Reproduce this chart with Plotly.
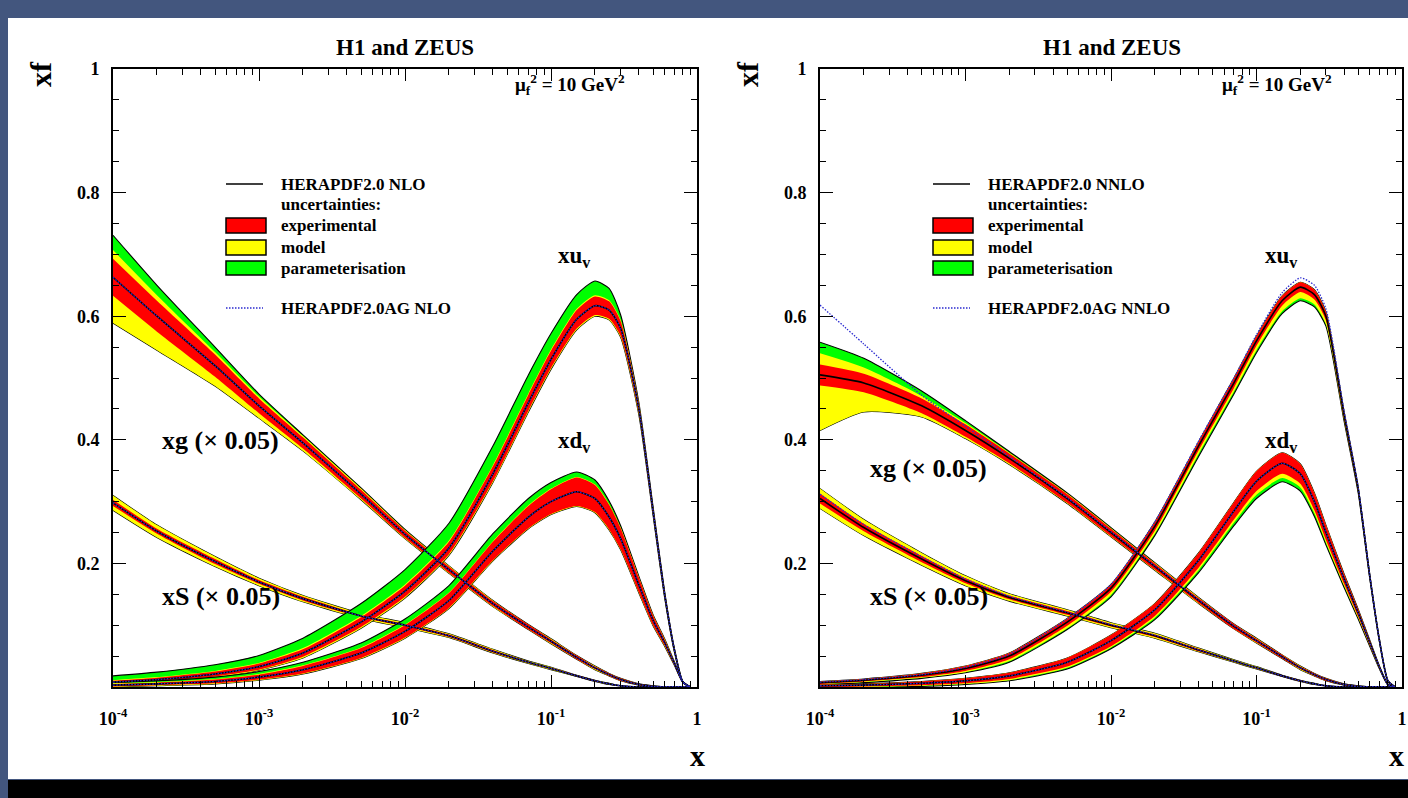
import plotly.graph_objects as go

W, H = 1408, 798

# ---------------------------------------------------------------- data
x_grid = [1e-4, 2e-4, 5e-4, 1e-3, 2e-3, 5e-3, 1e-2, 2e-2, 4e-2, 7e-2,
          0.1, 0.15, 0.2, 0.25, 0.3, 0.4, 0.5, 0.6, 0.7, 0.8, 0.9]

# HERAPDF2.0 NLO, mu_f^2 = 10 GeV^2 (xg and xS scaled by 0.05)
nlo_xg = [0.663, 0.600, 0.520, 0.455, 0.395, 0.312, 0.247, 0.190, 0.135, 0.097,
          0.074, 0.048, 0.031, 0.020, 0.012, 0.004, 0.001, 0, 0, 0, 0]
nlo_xg_exp = [0.030, 0.025, 0.018, 0.012, 0.009, 0.007, 0.006, 0.005, 0.004, 0.004,
              0.003, 0.003, 0.002, 0.002, 0.002, 0.001, 0.001, 0, 0, 0, 0]
nlo_xg_mod_up = [0.044, 0.034, 0.022, 0.015, 0.011, 0.009, 0.007, 0.006, 0.005, 0.004,
                 0.004, 0.003, 0.003, 0.002, 0.002, 0.001, 0.001, 0, 0, 0, 0]
nlo_xg_mod_dn = [0.074, 0.055, 0.033, 0.020, 0.013, 0.009, 0.007, 0.006, 0.005, 0.004,
                 0.004, 0.003, 0.003, 0.002, 0.002, 0.001, 0.001, 0, 0, 0, 0]
nlo_xg_par_up = [0.068, 0.050, 0.030, 0.019, 0.013, 0.010, 0.008, 0.006, 0.005, 0.004,
                 0.004, 0.003, 0.003, 0.002, 0.002, 0.001, 0.001, 0, 0, 0, 0]

nlo_xs = [0.298, 0.252, 0.203, 0.170, 0.143, 0.115, 0.100, 0.083, 0.058, 0.040,
          0.030, 0.018, 0.010, 0.005, 0.002, 0, 0, 0, 0, 0, 0]
nlo_xs_exp = [0.005, 0.004, 0.004, 0.003, 0.003, 0.002, 0.002, 0.002, 0.002, 0.001,
              0.001, 0.001, 0.001, 0, 0, 0, 0, 0, 0, 0, 0]
nlo_xs_mod = [0.012, 0.010, 0.008, 0.006, 0.005, 0.004, 0.004, 0.003, 0.003, 0.002,
              0.002, 0.001, 0.001, 0.001, 0, 0, 0, 0, 0, 0, 0]

nlo_xuv = [0.008, 0.012, 0.021, 0.033, 0.055, 0.105, 0.155, 0.225, 0.345, 0.460,
           0.530, 0.595, 0.617, 0.610, 0.580, 0.450, 0.285, 0.150, 0.060, 0.008, 0]
nlo_xuv_exp = [0.002, 0.003, 0.004, 0.005, 0.006, 0.008, 0.009, 0.010, 0.012, 0.013,
               0.014, 0.015, 0.015, 0.014, 0.012, 0.008, 0.006, 0.004, 0.002, 0.001, 0]
nlo_xuv_mod = [0.003, 0.004, 0.005, 0.006, 0.008, 0.010, 0.011, 0.012, 0.014, 0.015,
               0.016, 0.017, 0.017, 0.016, 0.014, 0.010, 0.007, 0.005, 0.003, 0.001, 0]
nlo_xuv_par_up = [0.010, 0.012, 0.015, 0.018, 0.024, 0.030, 0.035, 0.040, 0.045, 0.045,
                  0.042, 0.040, 0.040, 0.035, 0.022, 0.010, 0.007, 0.005, 0.003, 0.001, 0]

nlo_xdv = [0.003, 0.005, 0.009, 0.016, 0.028, 0.055, 0.090, 0.140, 0.220, 0.275,
           0.300, 0.316, 0.305, 0.275, 0.240, 0.165, 0.108, 0.072, 0.038, 0.008, 0]
nlo_xdv_exp = [0.002, 0.002, 0.003, 0.004, 0.006, 0.008, 0.010, 0.012, 0.015, 0.018,
               0.020, 0.023, 0.022, 0.020, 0.017, 0.012, 0.008, 0.005, 0.003, 0.001, 0]
nlo_xdv_mod = [0.003, 0.003, 0.004, 0.005, 0.007, 0.009, 0.011, 0.013, 0.016, 0.019,
               0.021, 0.024, 0.023, 0.021, 0.018, 0.013, 0.009, 0.006, 0.003, 0.001, 0]
nlo_xdv_par_up = [0.004, 0.005, 0.007, 0.009, 0.012, 0.016, 0.020, 0.024, 0.028, 0.030,
                  0.031, 0.032, 0.030, 0.026, 0.021, 0.014, 0.009, 0.006, 0.003, 0.001, 0]

# HERAPDF2.0 NNLO, mu_f^2 = 10 GeV^2
nnlo_xg = [0.505, 0.492, 0.455, 0.415, 0.370, 0.305, 0.250, 0.195, 0.140, 0.098,
           0.075, 0.049, 0.031, 0.020, 0.012, 0.004, 0.001, 0, 0, 0, 0]
nnlo_xg_exp = [0.017, 0.015, 0.012, 0.010, 0.008, 0.007, 0.006, 0.005, 0.004, 0.004,
               0.003, 0.003, 0.002, 0.002, 0.002, 0.001, 0.001, 0, 0, 0, 0]
nnlo_xg_mod_up = [0.035, 0.025, 0.016, 0.012, 0.009, 0.008, 0.007, 0.006, 0.005, 0.004,
                  0.004, 0.003, 0.003, 0.002, 0.002, 0.001, 0.001, 0, 0, 0, 0]
nnlo_xg_mod_dn = [0.090, 0.047, 0.018, 0.013, 0.010, 0.008, 0.007, 0.006, 0.005, 0.004,
                  0.004, 0.003, 0.003, 0.002, 0.002, 0.001, 0.001, 0, 0, 0, 0]
nnlo_xg_par_up = [0.053, 0.040, 0.024, 0.016, 0.011, 0.009, 0.008, 0.006, 0.005, 0.004,
                  0.004, 0.003, 0.003, 0.002, 0.002, 0.001, 0.001, 0, 0, 0, 0]
nnlo_xg_ag = [0.618, 0.555, 0.472, 0.422, 0.373, 0.306, 0.251, 0.196, 0.141, 0.099,
              0.075, 0.049, 0.031, 0.020, 0.012, 0.004, 0.001, 0, 0, 0, 0]

nnlo_xs = [0.305, 0.258, 0.207, 0.172, 0.145, 0.120, 0.100, 0.083, 0.060, 0.042,
           0.031, 0.018, 0.010, 0.005, 0.002, 0, 0, 0, 0, 0, 0]
nnlo_xs_exp = [0.008, 0.006, 0.005, 0.004, 0.003, 0.003, 0.002, 0.002, 0.002, 0.001,
               0.001, 0.001, 0.001, 0, 0, 0, 0, 0, 0, 0, 0]
nnlo_xs_mod = [0.016, 0.013, 0.010, 0.008, 0.006, 0.005, 0.004, 0.004, 0.003, 0.002,
               0.002, 0.001, 0.001, 0.001, 0, 0, 0, 0, 0, 0, 0]
nnlo_xs_ag = [0.312, 0.263, 0.211, 0.175, 0.147, 0.121, 0.101, 0.084, 0.060, 0.042,
              0.031, 0.018, 0.010, 0.005, 0.002, 0, 0, 0, 0, 0, 0]

nnlo_xuv = [0.007, 0.011, 0.019, 0.030, 0.050, 0.105, 0.160, 0.260, 0.390, 0.492,
            0.560, 0.625, 0.647, 0.635, 0.600, 0.440, 0.320, 0.180, 0.075, 0.010, 0]
nnlo_xuv_exp = [0.002, 0.002, 0.003, 0.004, 0.005, 0.006, 0.006, 0.007, 0.007, 0.008,
                0.008, 0.008, 0.008, 0.008, 0.007, 0.006, 0.004, 0.003, 0.002, 0.001, 0]
nnlo_xuv_mod_dn = [0.003, 0.003, 0.004, 0.006, 0.008, 0.010, 0.011, 0.012, 0.013, 0.014,
                   0.015, 0.017, 0.018, 0.016, 0.013, 0.008, 0.005, 0.003, 0.002, 0.001, 0]
nnlo_xuv_par_dn = [0.004, 0.004, 0.005, 0.007, 0.010, 0.012, 0.014, 0.015, 0.017, 0.018,
                   0.019, 0.021, 0.022, 0.020, 0.016, 0.010, 0.006, 0.004, 0.002, 0.001, 0]
nnlo_xuv_ag = [0.008, 0.012, 0.020, 0.032, 0.053, 0.110, 0.166, 0.267, 0.398, 0.500,
               0.570, 0.638, 0.662, 0.650, 0.612, 0.446, 0.323, 0.181, 0.075, 0.010, 0]

nnlo_xdv = [0.002, 0.003, 0.006, 0.010, 0.018, 0.040, 0.075, 0.125, 0.205, 0.285,
            0.333, 0.362, 0.345, 0.300, 0.250, 0.175, 0.120, 0.072, 0.032, 0.004, 0]
nnlo_xdv_exp = [0.002, 0.002, 0.003, 0.004, 0.005, 0.007, 0.009, 0.010, 0.012, 0.014,
                0.016, 0.017, 0.016, 0.014, 0.012, 0.008, 0.006, 0.004, 0.002, 0.001, 0]
nnlo_xdv_mod_dn = [0.003, 0.003, 0.004, 0.005, 0.007, 0.009, 0.011, 0.013, 0.016, 0.019,
                   0.022, 0.024, 0.022, 0.019, 0.016, 0.011, 0.008, 0.005, 0.003, 0.001, 0]
nnlo_xdv_par_dn = [0.004, 0.004, 0.005, 0.006, 0.008, 0.011, 0.013, 0.016, 0.020, 0.024,
                   0.028, 0.030, 0.028, 0.024, 0.020, 0.014, 0.010, 0.006, 0.003, 0.001, 0]

x_major = [1e-4, 1e-3, 1e-2, 1e-1, 1]
x_major_text = ["10<sup>-4</sup>", "10<sup>-3</sup>", "10<sup>-2</sup>", "10<sup>-1</sup>", "1"]
x_minor = [m * 10 ** e for e in (-4, -3, -2, -1) for m in range(2, 10)]
y_major = [0, 0.2, 0.4, 0.6, 0.8, 1.0]
y_major_text = ["", "0.2", "0.4", "0.6", "0.8", "1"]

# ---------------------------------------------------------------- styling
RED, YELLOW, GREEN = "#ff0000", "#ffff00", "#00ff00"
AG_BLUE = "#2b2bd0"
FONT = "Liberation Serif"
SMOOTH = 0.6


def px(v):
    return v / W


def py(v):
    return 1 - v / H


fig = go.Figure()


def add_line(y, ax, color, width, dash="solid"):
    fig.add_trace(go.Scatter(
        x=x_grid, y=y, mode="lines", xaxis=ax[0], yaxis=ax[1],
        line=dict(color=color, width=width, dash=dash, shape="spline", smoothing=SMOOTH),
        showlegend=False, hoverinfo="skip"))


def add_band(lo, hi, color, edge, edge_w, ax):
    fig.add_trace(go.Scatter(
        x=x_grid, y=lo, mode="lines", xaxis=ax[0], yaxis=ax[1],
        line=dict(color=edge, width=edge_w, shape="spline", smoothing=SMOOTH),
        showlegend=False, hoverinfo="skip"))
    fig.add_trace(go.Scatter(
        x=x_grid, y=hi, mode="lines", xaxis=ax[0], yaxis=ax[1], fill="tonexty",
        fillcolor=color,
        line=dict(color=edge, width=edge_w, shape="spline", smoothing=SMOOTH),
        showlegend=False, hoverinfo="skip"))


def add_pdf(c, exp_up, exp_dn, mod_up, mod_dn, par_up, par_dn, ax):
    # nested envelopes: parameterisation (outer), model, experimental (inner)
    m_up = [max(a, b) for a, b in zip(mod_up, exp_up)]
    m_dn = [max(a, b) for a, b in zip(mod_dn, exp_dn)]
    p_up = [max(a, b) for a, b in zip(par_up, m_up)]
    p_dn = [max(a, b) for a, b in zip(par_dn, m_dn)]
    add_band([v - d for v, d in zip(c, p_dn)], [v + d for v, d in zip(c, p_up)],
             GREEN, "black", 1.1, ax)
    add_band([v - d for v, d in zip(c, m_dn)], [v + d for v, d in zip(c, m_up)],
             YELLOW, "rgba(0,0,0,0)", 0, ax)
    add_band([v - d for v, d in zip(c, exp_dn)], [v + d for v, d in zip(c, exp_up)],
             RED, "rgba(0,0,0,0)", 0, ax)


L = ("x", "y")
R = ("x2", "y2")
AG_DASH = "1.5px,1.5px"

# left panel: NLO
add_pdf(nlo_xg, nlo_xg_exp, nlo_xg_exp, nlo_xg_mod_up, nlo_xg_mod_dn, nlo_xg_par_up, nlo_xg_mod_dn, L)
add_pdf(nlo_xs, nlo_xs_exp, nlo_xs_exp, nlo_xs_mod, nlo_xs_mod, nlo_xs_mod, nlo_xs_mod, L)
add_pdf(nlo_xuv, nlo_xuv_exp, nlo_xuv_exp, nlo_xuv_mod, nlo_xuv_mod, nlo_xuv_par_up, nlo_xuv_mod, L)
add_pdf(nlo_xdv, nlo_xdv_exp, nlo_xdv_exp, nlo_xdv_mod, nlo_xdv_mod, nlo_xdv_par_up, nlo_xdv_mod, L)
for curve in (nlo_xg, nlo_xs, nlo_xuv, nlo_xdv):
    add_line(curve, L, "black", 1.6)
for curve in (nlo_xg, nlo_xs, nlo_xuv, nlo_xdv):
    add_line(curve, L, AG_BLUE, 1.3, AG_DASH)

# right panel: NNLO
add_pdf(nnlo_xg, nnlo_xg_exp, nnlo_xg_exp, nnlo_xg_mod_up, nnlo_xg_mod_dn, nnlo_xg_par_up, nnlo_xg_mod_dn, R)
add_pdf(nnlo_xs, nnlo_xs_exp, nnlo_xs_exp, nnlo_xs_mod, nnlo_xs_mod, nnlo_xs_mod, nnlo_xs_mod, R)
add_pdf(nnlo_xuv, nnlo_xuv_exp, nnlo_xuv_exp, nnlo_xuv_exp, nnlo_xuv_mod_dn, nnlo_xuv_exp, nnlo_xuv_par_dn, R)
add_pdf(nnlo_xdv, nnlo_xdv_exp, nnlo_xdv_exp, nnlo_xdv_exp, nnlo_xdv_mod_dn, nnlo_xdv_exp, nnlo_xdv_par_dn, R)
for curve in (nnlo_xg, nnlo_xs, nnlo_xuv, nnlo_xdv):
    add_line(curve, R, "black", 1.6)
for curve in (nnlo_xg_ag, nnlo_xs_ag, nnlo_xuv_ag, nnlo_xdv):
    add_line(curve, R, AG_BLUE, 1.3, AG_DASH)

# ---------------------------------------------------------------- axes
tick_font = dict(family=FONT, size=18, color="black", weight="bold")


def xaxis(dom, anchor):
    return dict(type="log", range=[-4, 0], domain=dom, anchor=anchor, automargin=False,
                showline=True, linecolor="black", linewidth=2, mirror="allticks",
                ticks="inside", ticklen=12, tickwidth=1.3, tickcolor="black",
                tickmode="array", tickvals=x_major, ticktext=x_major_text,
                tickfont=tick_font, ticklabelstandoff=14,
                minor=dict(tickmode="array", tickvals=x_minor, ticks="inside",
                           ticklen=6, tickwidth=1, tickcolor="black", showgrid=False),
                showgrid=False, zeroline=False)


def yaxis(anchor):
    return dict(range=[0, 1], domain=[py(687), py(69)], anchor=anchor, automargin=False,
                showline=True, linecolor="black", linewidth=2, mirror="allticks",
                ticks="inside", ticklen=13, tickwidth=1.3, tickcolor="black",
                tickmode="array", tickvals=y_major, ticktext=y_major_text,
                tickfont=tick_font, ticklabelstandoff=8,
                minor=dict(dtick=0.05, tick0=0, ticks="inside", ticklen=6,
                           tickwidth=1, tickcolor="black", showgrid=False),
                showgrid=False, zeroline=False)


fig.update_layout(
    width=W, height=H, margin=dict(l=0, r=0, t=0, b=0, autoexpand=False),
    paper_bgcolor="#43567e", plot_bgcolor="white",
    xaxis=xaxis([px(113), px(697)], "y"),
    yaxis=yaxis("x"),
    xaxis2=xaxis([px(820), px(1402)], "y2"),
    yaxis2=yaxis("x2"),
    showlegend=False,
)

# page frame: white sheet with a black strip along the bottom
fig.add_shape(type="rect", xref="paper", yref="paper", x0=px(8), x1=1, y0=py(779), y1=py(18),
              fillcolor="white", line_width=0, layer="below")
fig.add_shape(type="rect", xref="paper", yref="paper", x0=px(8), x1=1, y0=0, y1=py(780),
              fillcolor="black", line_width=0, layer="below")

# ---------------------------------------------------------------- texts
def text(s, x, y, size, anchor="center", angle=0):
    fig.add_annotation(text=s, x=px(x), y=py(y), xref="paper", yref="paper",
                       xanchor=anchor, yanchor="middle", showarrow=False, textangle=angle,
                       font=dict(family=FONT, size=size, color="black"))


for off, order, xlab in ((0, "NLO", 697), (707, "NNLO", 1396)):
    text("<b>H1 and ZEUS</b>", 405 + off, 47, 23)
    text("<b>xf</b>", 41 + off, 74, 30, angle=-90)
    text("<b>x</b>", xlab, 755, 30)
    text("<b>μ<sub>f</sub><sup>2</sup> = 10 GeV<sup>2</sup></b>", 570 + off, 84, 19)
    text("<b>xu<sub>v</sub></b>", 574 + off, 257, 23)
    text("<b>xd<sub>v</sub></b>", 574 + off, 442, 23)

    # legend
    lx0, lx1, tx = 226 + off, 263 + off, 279 + off
    fig.add_shape(type="line", xref="paper", yref="paper", x0=px(lx0), x1=px(lx1),
                  y0=py(184), y1=py(184), line=dict(color="black", width=1.6))
    text("<b>HERAPDF2.0 %s</b>" % order, tx, 184, 17, "left")
    text("<b>uncertainties:</b>", tx, 204, 17, "left")
    for (y0, y1), col, lab in (((218, 233), RED, "experimental"),
                               ((240, 255), YELLOW, "model"),
                               ((261, 275), GREEN, "parameterisation")):
        fig.add_shape(type="rect", xref="paper", yref="paper", x0=px(lx0), x1=px(lx1 + 3),
                      y0=py(y1), y1=py(y0), fillcolor=col, line=dict(color="black", width=1.5))
        text("<b>%s</b>" % lab, tx, (y0 + y1) / 2, 17, "left")
    fig.add_shape(type="line", xref="paper", yref="paper", x0=px(lx0), x1=px(lx1),
                  y0=py(308), y1=py(308), line=dict(color=AG_BLUE, width=1.3, dash=AG_DASH))
    text("<b>HERAPDF2.0AG %s</b>" % order, tx, 308, 17, "left")

text("<b>xg (× 0.05)</b>", 220, 440, 26)
text("<b>xg (× 0.05)</b>", 928, 468, 26)
text("<b>xS (× 0.05)</b>", 221, 596, 26)
text("<b>xS (× 0.05)</b>", 929, 596, 26)

fig.write_html("out.html")
